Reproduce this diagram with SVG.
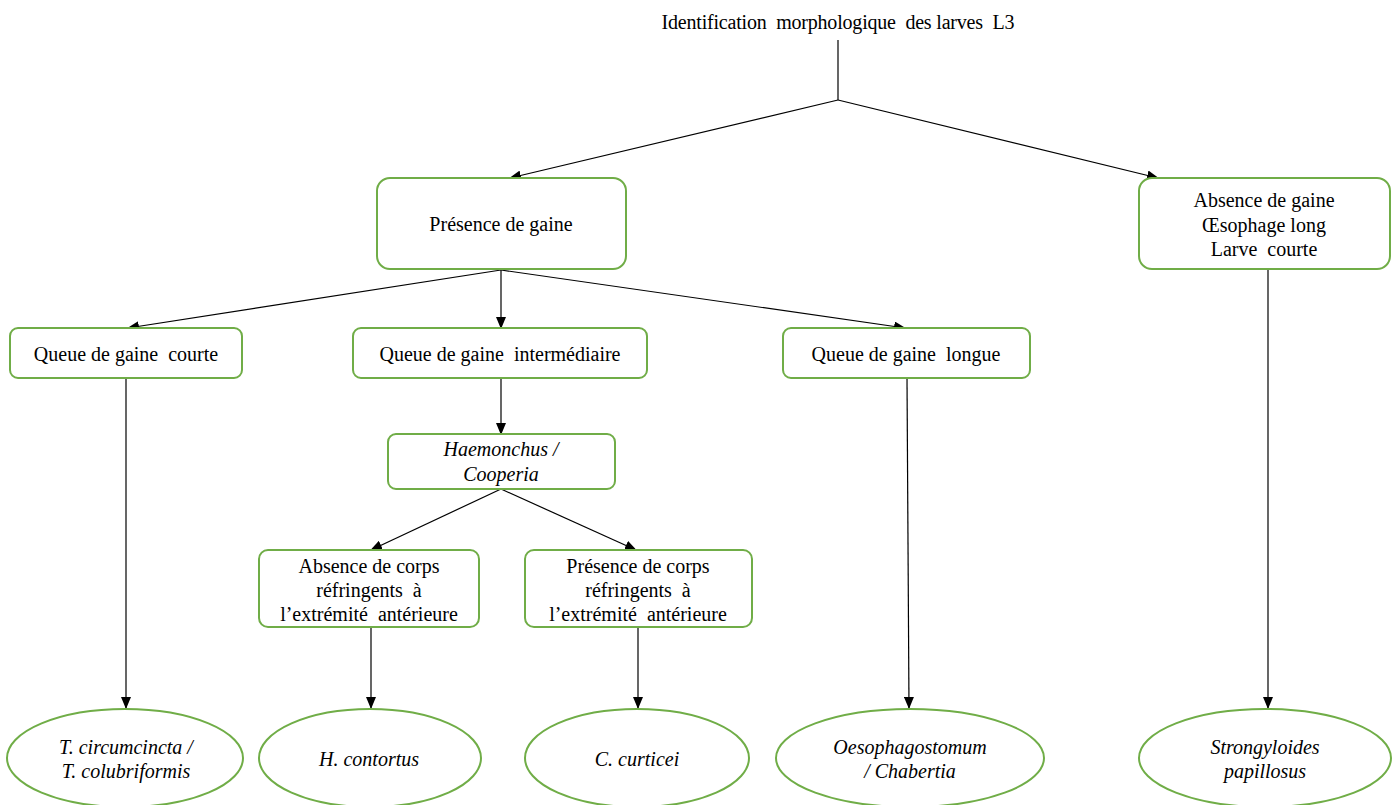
<svg xmlns="http://www.w3.org/2000/svg" width="1395" height="805" viewBox="0 0 1395 805">
<defs>
<marker id="ar" markerWidth="12" markerHeight="10" refX="11" refY="5" orient="auto" markerUnits="userSpaceOnUse">
<path d="M0,0 L12,5 L0,10 z" fill="#000"/>
</marker>
<style>
.t{font-family:"Liberation Serif","Times New Roman",serif;font-size:20px;fill:#000;text-anchor:middle;white-space:pre}
.i{font-style:italic}
.b{fill:#fff;stroke:#70ad47;stroke-width:2}
.c{stroke:#000;stroke-width:1.2;fill:none}
</style>
</defs>
<rect width="1395" height="805" fill="#fff"/>
<g id="title"><text class="t" x="838" y="29" textLength="353" lengthAdjust="spacing">Identification  morphologique  des larves  L3</text></g>
<g id="connectors">
<path class="c" d="M838,40 V100"/>
<path class="c" d="M838,100 L510,178" marker-end="url(#ar)"/>
<path class="c" d="M838,100 L1158,178" marker-end="url(#ar)"/>
<path class="c" d="M501,270 L128,328" marker-end="url(#ar)"/>
<path class="c" d="M501,270 V328" marker-end="url(#ar)"/>
<path class="c" d="M501,270 L905,328" marker-end="url(#ar)"/>
<path class="c" d="M126,378 V708" marker-end="url(#ar)"/>
<path class="c" d="M501,378 V434" marker-end="url(#ar)"/>
<path class="c" d="M501,489 L371,550" marker-end="url(#ar)"/>
<path class="c" d="M501,489 L636,550" marker-end="url(#ar)"/>
<path class="c" d="M371,627 V708" marker-end="url(#ar)"/>
<path class="c" d="M638,627 V708" marker-end="url(#ar)"/>
<path class="c" d="M907,378 L909,708" marker-end="url(#ar)"/>
<path class="c" d="M1268,270 V708" marker-end="url(#ar)"/>
</g>
<g id="presence"><rect class="b" x="377" y="178" width="249" height="91" rx="13"/><text class="t" x="501" y="231">Présence de gaine</text></g>
<g id="absence"><rect class="b" x="1139" y="178" width="251" height="91" rx="13"/>
<text class="t" x="1264" y="207">Absence de gaine</text><text class="t" x="1264" y="232">Œsophage long</text><text class="t" x="1264" y="256">Larve  courte</text></g>
<g id="courte"><rect class="b" x="10" y="328" width="232" height="50" rx="8"/><text class="t" x="126" y="361">Queue de gaine  courte</text></g>
<g id="inter"><rect class="b" x="353" y="328" width="294" height="50" rx="8"/><text class="t" x="500" y="361">Queue de gaine  intermédiaire</text></g>
<g id="longue"><rect class="b" x="783" y="328" width="247" height="50" rx="8"/><text class="t" x="906" y="361">Queue de gaine  longue</text></g>
<g id="haem"><rect class="b" x="388" y="434" width="227" height="55" rx="8"/><text class="t i" x="501" y="456">Haemonchus /</text><text class="t i" x="501" y="481">Cooperia</text></g>
<g id="abscorps"><rect class="b" x="259" y="550" width="220" height="77" rx="9"/>
<text class="t" x="369" y="573">Absence de corps</text><text class="t" x="369" y="597">réfringents  à</text><text class="t" x="369" y="621">l’extrémité  antérieure</text></g>
<g id="prescorps"><rect class="b" x="525" y="550" width="227" height="77" rx="9"/>
<text class="t" x="638" y="573">Présence de corps</text><text class="t" x="638" y="597">réfringents  à</text><text class="t" x="638" y="621">l’extrémité  antérieure</text></g>
<g id="e1"><ellipse class="b" cx="125" cy="758" rx="118" ry="49"/><text class="t i" x="126" y="754">T. circumcincta /</text><text class="t i" x="126" y="778">T. colubriformis</text></g>
<g id="e2"><ellipse class="b" cx="370" cy="758" rx="111" ry="49"/><text class="t i" x="369" y="766">H. contortus</text></g>
<g id="e3"><ellipse class="b" cx="637" cy="758" rx="112" ry="49"/><text class="t i" x="637" y="766">C. curticei</text></g>
<g id="e4"><ellipse class="b" cx="910" cy="758" rx="134" ry="49"/><text class="t i" x="910" y="754">Oesophagostomum</text><text class="t i" x="910" y="778">/ Chabertia</text></g>
<g id="e5"><ellipse class="b" cx="1265" cy="758" rx="126" ry="49"/><text class="t i" x="1265" y="754">Strongyloides</text><text class="t i" x="1265" y="778">papillosus</text></g>
</svg>
